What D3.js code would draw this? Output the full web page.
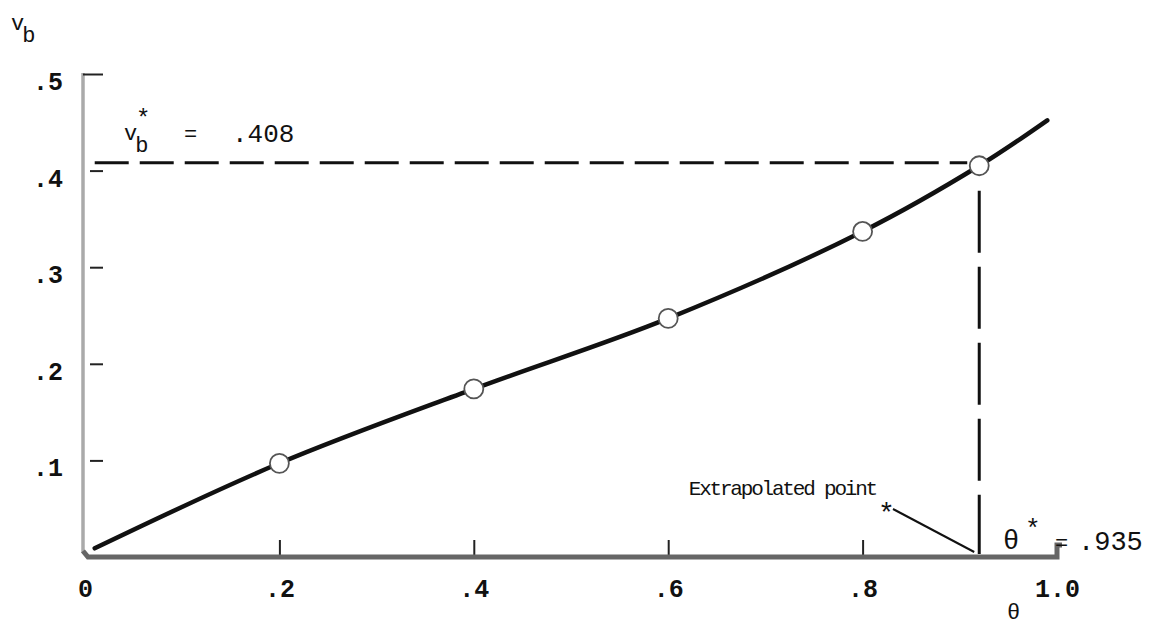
<!DOCTYPE html>
<html>
<head>
<meta charset="utf-8">
<script src="https://cdn.jsdelivr.net/npm/d3@7"></script>
<style>
  body { margin: 0; background: #fff; }
  text { font-family: "Liberation Mono", "DejaVu Sans Mono", monospace; fill: #111; }
</style>
</head>
<body>
<div id="drawarea"></div>
<script>
// values
const thetaPts = [0.2, 0.4, 0.6, 0.8, 0.92];
const vbPts = [0.097, 0.174, 0.247, 0.337, 0.405];
// smooth curve through the points, with its two free ends
const curveTheta = [0.01, 0.2, 0.4, 0.6, 0.8, 0.92, 0.99];
const curveVb = [0.009, 0.097, 0.174, 0.247, 0.337, 0.405, 0.452];
const xTicks = [0, 0.2, 0.4, 0.6, 0.8, 1.0];
const xTickLabels = ["0", ".2", ".4", ".6", ".8", "1.0"];
const yTicks = [0.1, 0.2, 0.3, 0.4, 0.5];
const yTickLabels = [".1", ".2", ".3", ".4", ".5"];
const vbStar = 0.408;
const thetaStar = 0.92; // where the extrapolated point sits on the drawing (labelled .935)

let svg = d3.select("div#drawarea").append("svg")
    .attr("width", 1163)
    .attr("height", 629);

let x = d3.scaleLinear().domain([0, 1]).range([85, 1057]);
let y = d3.scaleLinear().domain([0, 0.5]).range([557, 74]);

//Y axis: thin grey line with short ticks pointing inwards
svg.append("line")
    .attr("x1", 83).attr("x2", 83)
    .attr("y1", y(0.5) - 1).attr("y2", y(0) - 4)
    .attr("stroke", "#aaa").attr("stroke-width", 3.5);
let yAxis = svg.append("g")
    .attr("transform", "translate(83,0)")
    .call(d3.axisLeft(y)
        .tickValues(yTicks)
        .tickFormat((d, i) => yTickLabels[i])
        .tickSizeInner(-20)
        .tickSizeOuter(0)
        .tickPadding(20));
yAxis.select(".domain").remove();
yAxis.selectAll(".tick line")
    .attr("stroke", "#222").attr("stroke-width", 2)
    .attr("x1", d => d === 0.5 ? 0 : 7);
yAxis.selectAll(".tick text")
    .attr("dy", "0.62em")
    .style("font-size", "25px")
    .style("font-weight", "bold");

//X axis: heavy grey rule, ticks pointing up
let xAxis = svg.append("g")
    .attr("transform", "translate(0," + y(0) + ")")
    .call(d3.axisBottom(x)
        .tickValues(xTicks)
        .tickFormat((d, i) => xTickLabels[i])
        .tickSizeInner(-17)
        .tickSizeOuter(0)
        .tickPadding(22));
xAxis.select(".domain").remove();
xAxis.selectAll(".tick line")
    .attr("stroke", "#222").attr("stroke-width", 2)
    .attr("opacity", d => (d === 0 || d === 1) ? 0 : 1);
xAxis.selectAll(".tick text")
    .style("font-size", "25px")
    .style("font-weight", "bold");
svg.append("path")
    .attr("d", d3.line()([[x(0) - 2, y(0) - 6], [x(0) + 3, y(0)], [x(1), y(0)], [x(1), y(0) - 12], [x(1) + 5, y(0) - 12]]))
    .attr("fill", "none")
    .attr("stroke", "#666")
    .attr("stroke-width", 5);

//Dashed guide lines to the extrapolated point
svg.append("line")
    .attr("x1", x(0.01)).attr("x2", x(thetaStar) - 12)
    .attr("y1", y(vbStar)).attr("y2", y(vbStar))
    .attr("stroke", "#111").attr("stroke-width", 3)
    .attr("stroke-dasharray", "34,11");
svg.append("line")
    .attr("x1", x(thetaStar)).attr("x2", x(thetaStar))
    .attr("y1", y(vbStar) + 28).attr("y2", y(0) - 3)
    .attr("stroke", "#111").attr("stroke-width", 3)
    .attr("stroke-dasharray", "62,14");

//The curve
let curveData = curveTheta.map((t, i) => [t, curveVb[i]]);
svg.append("path")
    .datum(curveData)
    .attr("d", d3.line().x(d => x(d[0])).y(d => y(d[1])).curve(d3.curveCatmullRom))
    .attr("fill", "none")
    .attr("stroke", "#111")
    .attr("stroke-width", 4.5)
    .attr("stroke-linecap", "round");

//Open circles for the points
thetaPts.forEach((t, i) => {
    svg.append("circle")
        .attr("cx", x(t))
        .attr("cy", y(vbPts[i]))
        .attr("r", 9.5)
        .attr("fill", "#fff")
        .attr("stroke", "#555")
        .attr("stroke-width", 1.8);
});

//Labels
let vbLabel = svg.append("text").attr("x", 11).attr("y", 30).style("font-size", "22px");
vbLabel.append("tspan").text("v");
vbLabel.append("tspan").attr("dx", -2).attr("dy", 12).text("b");

let starLabel = svg.append("text").attr("x", 124).attr("y", 140).style("font-size", "22px");
starLabel.append("tspan").text("v");
starLabel.append("tspan").attr("dx", -2).attr("dy", 12).text("b");
svg.append("text").attr("x", 136).attr("y", 126).style("font-size", "24px").text("*");
svg.append("text").attr("x", 184).attr("y", 141).style("font-size", "22px").text("=");
svg.append("text").attr("x", 232).attr("y", 142).style("font-size", "26px").text(".408");

svg.append("text")
    .attr("x", 876).attr("y", 495)
    .attr("text-anchor", "end")
    .style("font-size", "21px")
    .style("letter-spacing", "-2.2px")
    .text("Extrapolated point");
svg.append("text").attr("x", 878).attr("y", 522).style("font-size", "28px").text("*");
svg.append("line")
    .attr("x1", 893).attr("y1", 509)
    .attr("x2", x(thetaStar) - 5).attr("y2", y(0) - 5)
    .attr("stroke", "#111").attr("stroke-width", 2);

svg.append("text").attr("x", 1003).attr("y", 549).style("font-size", "27px").text("θ");
svg.append("text").attr("x", 1025).attr("y", 537).style("font-size", "26px").text("*");
svg.append("text").attr("x", 1055).attr("y", 550).style("font-size", "22px").text("=");
svg.append("text").attr("x", 1078).attr("y", 550).style("font-size", "27px").text(".935");

svg.append("text").attr("x", 1007).attr("y", 619).style("font-size", "22px").text("θ");
</script>
</body>
</html>
